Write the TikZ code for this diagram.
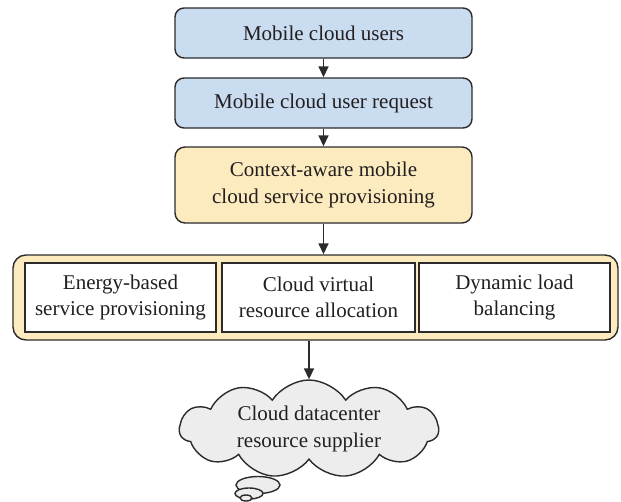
\documentclass[tikz,border=0pt]{standalone}
\usepackage{fontspec}
\setmainfont{Liberation Serif}
\usetikzlibrary{shapes.symbols,arrows.meta}
\definecolor{bluefill}{HTML}{C9DCF0}
\definecolor{yellowfill}{HTML}{FCEBBE}
\definecolor{cloudfill}{HTML}{EDEDED}
\definecolor{edge}{HTML}{2B2B2B}
\definecolor{txt}{HTML}{231F20}
\tikzset{
  base/.style={draw=edge, line width=1.4pt, text=txt, font=\fontsize{21}{26.5}\selectfont, align=center, inner sep=0pt},
  bluebox/.style={base, fill=bluefill, rounded corners=9pt, minimum width=297pt},
  yellowbox/.style={base, fill=yellowfill, rounded corners=10pt, minimum width=297pt},
  outerbox/.style={base, fill=yellowfill, rounded corners=13pt, minimum width=605pt, minimum height=85pt},
  innerbox/.style={base, fill=white, minimum height=69pt},
  arr/.style={draw=edge, line width=1.6pt, -{Triangle[width=10pt,length=11pt]}},
  bubble/.style={draw=edge, line width=1.4pt, fill=cloudfill}
}
\begin{document}
\begin{tikzpicture}[x=1pt,y=-1pt]
\useasboundingbox (0,0) rectangle (621,501);
\node[bluebox, minimum height=50pt] (users) at (323.5,33) {Mobile cloud users};
\node[bluebox, minimum height=50pt] (request) at (323.5,103) {Mobile cloud user request};
\node[yellowbox, minimum height=76pt] (context) at (323.5,185) {Context-aware mobile\\cloud service provisioning};
\node[outerbox] (outer) at (315.5,297.5) {};
\node[innerbox, minimum width=191pt] (energy) at (120.5,297.5) {Energy-based\\service provisioning};
\node[innerbox, minimum width=193pt] (virtual) at (318.5,297.5) {Cloud virtual\\resource allocation};
\node[innerbox, minimum width=191pt] (load) at (514.5,297.5) {Dynamic load\\balancing};
\draw[bubble] (258,485) ellipse [x radius=22pt, y radius=8.5pt];
\draw[bubble] (249,493.5) ellipse [x radius=14pt, y radius=5.5pt];
\draw[bubble] (246,498) ellipse [x radius=6pt, y radius=3pt];
\node[base, cloud, cloud ignores aspect, cloud puffs=11, cloud puff arc=115, fill=cloudfill, minimum width=259pt, minimum height=98pt] (cloud) at (309,429) {Cloud datacenter\\resource supplier};
\draw[arr] (users) -- (request);
\draw[arr] (request) -- (context);
\draw[arr] (context.south) -- (context.south |- outer.north);
\draw[arr] (outer.south -| cloud.north) -- (cloud.north);
\end{tikzpicture}
\end{document}
